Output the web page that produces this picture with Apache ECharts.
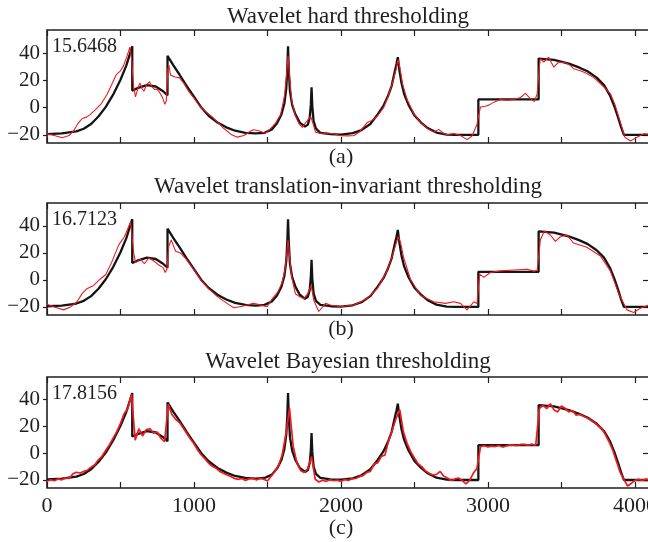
<!DOCTYPE html>
<html>
<head>
<meta charset="utf-8">
<script src="https://cdn.jsdelivr.net/npm/echarts@6/dist/echarts.min.js"></script>
<style>
html, body { margin: 0; padding: 0; background: #fff; }
#main { width: 648px; height: 542px; }
</style>
</head>
<body>
<div id="main"></div>
<script>
// panel texts
var titles = ['Wavelet hard thresholding', 'Wavelet translation-invariant thresholding', 'Wavelet Bayesian thresholding'];
var scores = ['15.6468', '16.7123', '17.8156'];
var tags = ['(a)', '(b)', '(c)'];
var xLabels = [0, 1000, 2000, 3000, 4000];
var xTicks = [0, 500, 1000, 1500, 2000, 2500, 3000, 3500, 4000];
var yTicks = [-20, 0, 20, 40];

// original signal (black)
var truth = [
  [0,-19.5],[100,-19],[200,-17.5],[250,-15.5],[300,-12],[350,-6.5],[400,0.5],[450,9.5],[500,20.5],[540,31],[580,45],
  [580,12.5],[620,14.5],[680,16.5],[740,15.5],[790,12],[820,9],
  [820,38],[860,31],[900,24.5],[950,16],[1000,8],[1050,0],[1100,-6],[1160,-11],[1220,-14.5],[1280,-17],[1350,-18.5],
  [1420,-19],[1480,-18.5],[1530,-16],[1565,-11.5],[1595,-5],[1615,3],[1628,14],[1635,28],[1640,45],[1645,28],[1653,12],
  [1668,2],[1690,-5],[1720,-11],[1755,-14],[1775,-12.5],[1788,-7],[1795,2],[1800,15],[1805,1],[1814,-10],[1830,-15.5],
  [1860,-18.5],[1930,-19.5],[2000,-19.8],[2080,-18.8],[2140,-16.5],[2200,-12],[2250,-5],[2290,1.5],[2320,8.5],[2345,16],
  [2365,26],[2378,32],[2387,37],[2397,28],[2412,18],[2430,10],[2460,2],[2500,-5.7],[2545,-11],[2590,-15],[2650,-18.3],
  [2720,-19.8],[2780,-20],[2935,-20],
  [2935,6],[3345,6],
  [3345,36],[3450,35],[3550,32.3],[3620,29.5],[3680,26.5],[3740,22],[3790,16.5],[3830,9],[3860,1],[3885,-7],[3905,-14],
  [3925,-20],[4096,-20]
];

// (a) hard thresholding estimate
var redHard = [
  [0,-19.3],[50,-20.5],[103,-22.2],[150,-20.5],[181,-17],[215,-11],[240,-8],[270,-7],[295,-5],[330,-1.5],[370,3],
  [410,10],[445,18],[470,24],[500,27],[522,31],[545,38],[564,44.4],[575,36],[590,15],[602,7.9],[618,14],[632,18.2],
  [646,14],[659,12],[678,17],[698,19],[715,15],[732,13.4],[748,13.5],[761,12],[784,7.9],[802,2.4],[812,5],[822,28],
  [830,31],[840,24],[870,22.5],[900,22],[930,18],[960,12.5],[1000,7],[1040,1],[1080,-3],[1120,-6.5],[1160,-10.5],
  [1200,-15],[1250,-19.5],[1294,-21.7],[1340,-20.5],[1380,-17.5],[1405,-16.3],[1440,-17],[1485,-18.9],[1520,-15.5],
  [1554,-11.5],[1590,-5],[1615,8],[1630,24],[1640,38],[1650,24],[1665,5],[1690,-6],[1715,-12],[1737,-14.5],[1760,-11],
  [1783,-8],[1794,-6.4],[1808,-11],[1827,-18],[1860,-19],[1900,-18.6],[1950,-19.2],[2000,-20.7],[2050,-20.8],
  [2090,-20.5],[2130,-17.5],[2178,-11],[2210,-9.5],[2246,-6.4],[2290,0],[2320,8],[2350,18],[2375,28],[2388,35],
  [2400,30],[2420,17],[2450,6],[2495,-4.4],[2540,-10.7],[2590,-15.5],[2631,-18],[2665,-16],[2700,-19],[2722,-20],
  [2768,-19],[2813,-20.5],[2858,-23.5],[2890,-21],[2904,-18],[2926,-12],[2949,0.4],[2983,1],[3010,2],[3040,4],
  [3085,5.9],[3130,5.5],[3176,5.9],[3221,7.4],[3255,10.4],[3289,6.6],[3316,4.5],[3335,10],[3350,30],[3357,36],
  [3380,33.5],[3414,37],[3448,29.7],[3482,33.5],[3528,33],[3560,31],[3582,28.6],[3630,27],[3673,25],[3720,22],
  [3765,17.7],[3800,14],[3833,10.3],[3865,2],[3890,-7],[3910,-14],[3931,-21.7],[3970,-24.5],[4015,-21.7],
  [4060,-19.3],[4096,-19.5]
];

// (b) translation-invariant estimate
var redTI = [
  [0,-18],[50,-20],[113,-22.2],[160,-20],[204,-16.2],[240,-10],[272,-6.5],[317,-4.1],[363,0.7],[400,4],[440,13],
  [488,26],[527,32],[568,43],[580,44],[590,20],[602,12.8],[636,15.2],[663,12],[693,16.4],[727,14],[761,11],[790,9.1],
  [804,5.5],[816,8],[828,24.8],[845,29.7],[875,21.2],[908,20],[950,15],[1000,7.5],[1050,-0.5],[1100,-6.5],
  [1150,-11.5],[1200,-15.5],[1240,-18.5],[1271,-20.6],[1330,-19.5],[1405,-17.4],[1450,-18.5],[1498,-19.9],
  [1532,-14],[1570,-9],[1600,-2],[1620,8],[1632,20],[1640,29.7],[1650,18],[1665,2],[1690,-10.2],[1720,-12.5],
  [1747,-13.8],[1775,-10],[1797,-4.1],[1815,-15],[1849,-23.4],[1895,-17.4],[1928,-18.6],[1997,-19.9],[2087,-18.6],
  [2140,-16],[2178,-13.8],[2246,-6.5],[2314,6.7],[2350,18],[2375,27],[2390,32],[2405,28],[2427,16.4],[2472,0.7],
  [2540,-11.4],[2631,-16.2],[2711,-17.4],[2768,-16.2],[2813,-17.4],[2858,-22.2],[2904,-16.2],[2926,-17.4],
  [2944,4.3],[2972,1.9],[3017,5.5],[3085,6.7],[3176,7.3],[3267,7.9],[3312,6.5],[3335,7],[3357,29.7],[3384,36.2],
  [3425,33.3],[3459,28.5],[3493,32],[3538,33.3],[3582,27.3],[3673,24.2],[3765,17.7],[3833,6.7],[3890,-10.2],
  [3946,-22.2],[3991,-24.1],[4037,-21],[4096,-18.6]
];

// (c) Bayesian estimate, one value every bayesStep samples
var bayesStep = 25;
var redBayes = [
  -21.0,-19.8,-20.6,-19.2,-19.9,-18.4,-18.9,-15.6,
  -14.2,-14.8,-13.6,-12.7,-10.4,-8.6,-4.9,-2.1,
  2.2,6.4,11.3,16.2,22.4,29.6,33.5,44.2,
  9.8,18.3,12.9,17.6,18.4,15.1,15.9,11.2,
  8.6,36.5,29.0,25.4,23.1,19.2,15.0,10.8,
  7.1,2.4,-1.3,-4.2,-7.5,-9.8,-11.2,-13.6,
  -15.0,-16.3,-17.4,-18.8,-19.6,-18.9,-20.3,-19.2,
  -18.4,-20.1,-18.7,-19.5,-20.8,-17.2,-13.6,-9.4,
  -1.3,14.0,33.8,5.2,-6.8,-12.9,-14.4,-11.4,
  -2.5,-19.5,-21.5,-20.2,-21.0,-19.8,-20.6,-20.1,
  -21.2,-19.6,-20.4,-19.1,-18.9,-17.5,-16.8,-14.3,
  -13.6,-8.0,-7.2,-2.4,-1.3,9.8,17.5,26.0,
  32.6,16.0,7.4,1.2,-3.6,-7.9,-10.0,-13.2,
  -15.0,-16.3,-15.8,-13.6,-17.2,-18.5,-20.5,-19.2,
  -18.5,-20.3,-23.0,-20.4,-15.0,-11.4,4.9,5.6,
  4.7,5.3,5.0,5.8,4.6,5.4,6.2,6.1,
  5.8,6.7,6.6,6.0,6.9,5.8,33.3,35.8,
  33.3,37.0,32.4,30.9,35.3,33.6,30.9,32.0,
  28.4,29.0,27.6,26.3,24.8,22.9,20.4,18.5,
  13.7,8.4,2.1,-6.2,-14.3,-19.5,-24.5,-22.6,
  -20.4,-19.6,-20.3,-19.4,-19.8
];

var estimates = [redHard, redTI, redBayes.map(function (v, k) { return [k * bayesStep, v]; })];

var FONT = '"Liberation Serif", "Times New Roman", serif';
var INK = '#1f1f1f';
var panelTop = [30, 203, 377];
var panelH = [113, 112, 111];
var titleY = [17, 187, 362];
var tagY = [157, 329, 528];

var myChart = echarts.init(document.getElementById('main'));

var grid = [], xAxis = [], yAxis = [], series = [], graphic = [];
panelTop.forEach(function (top, i) {
  grid.push({
    left: 47, width: 602, top: top, height: panelH[i],
    outerBoundsMode: 'none', containLabel: false,
    show: true, borderColor: INK, borderWidth: 1.6, backgroundColor: 'transparent'
  });
  var tick = { show: true, inside: true, length: 6, customValues: xTicks, lineStyle: { color: INK, width: 1.2 } };
  xAxis.push({
    gridIndex: i, type: 'value', min: 0, max: 4096, position: 'bottom',
    axisLine: { show: false, onZero: false }, splitLine: { show: false }, axisTick: tick,
    axisLabel: {
      show: i === 2, customValues: xLabels, margin: 7,
      formatter: function (v) { return String(v); },
      color: INK, fontFamily: FONT, fontSize: 22
    }
  });
  xAxis.push({
    gridIndex: i, type: 'value', min: 0, max: 4096, position: 'top',
    axisLine: { show: false, onZero: false }, splitLine: { show: false }, axisTick: tick,
    axisLabel: { show: false }
  });
  yAxis.push({
    gridIndex: i, type: 'value', min: -26, max: 57, position: 'left',
    axisLine: { show: false, onZero: false }, splitLine: { show: false },
    axisTick: { show: true, inside: false, length: 4, customValues: yTicks, lineStyle: { color: INK, width: 1.2 } },
    axisLabel: {
      customValues: yTicks, margin: 7, color: INK, fontFamily: FONT, fontSize: 21,
      formatter: function (v) { return v < 0 ? '\u2212' + (-v) : String(v); }
    }
  });
  yAxis.push({
    gridIndex: i, type: 'value', min: -26, max: 57, position: 'right',
    axisLine: { show: false, onZero: false }, splitLine: { show: false },
    axisTick: { show: true, inside: true, length: 6, customValues: yTicks, lineStyle: { color: INK, width: 1.2 } },
    axisLabel: { show: false }
  });

  series.push({
    type: 'line', xAxisIndex: i * 2, yAxisIndex: i * 2, data: truth,
    showSymbol: false, lineStyle: { color: '#141414', width: 2.3 }, z: 2
  });
  series.push({
    type: 'line', xAxisIndex: i * 2, yAxisIndex: i * 2, data: estimates[i],
    showSymbol: false, lineStyle: { color: '#f01a1e', width: i === 2 ? 1.7 : 1.1 }, z: 3
  });

  graphic.push({
    type: 'text', x: 348, y: titleY[i], z: 10,
    style: { text: titles[i], fill: INK, font: '23px ' + FONT, align: 'center', verticalAlign: 'middle' }
  });
  graphic.push({
    type: 'text', x: 52, y: top + 17, z: 10,
    style: { text: scores[i], fill: INK, font: '20px ' + FONT, align: 'left', verticalAlign: 'middle' }
  });
  graphic.push({
    type: 'text', x: 341, y: tagY[i], z: 10,
    style: { text: tags[i], fill: INK, font: '22px ' + FONT, align: 'center', verticalAlign: 'middle' }
  });
});

var option = {
  animation: false,
  backgroundColor: '#fff',
  grid: grid,
  xAxis: xAxis,
  yAxis: yAxis,
  series: series,
  graphic: graphic
};
option && myChart.setOption(option);
</script>
</body>
</html>
